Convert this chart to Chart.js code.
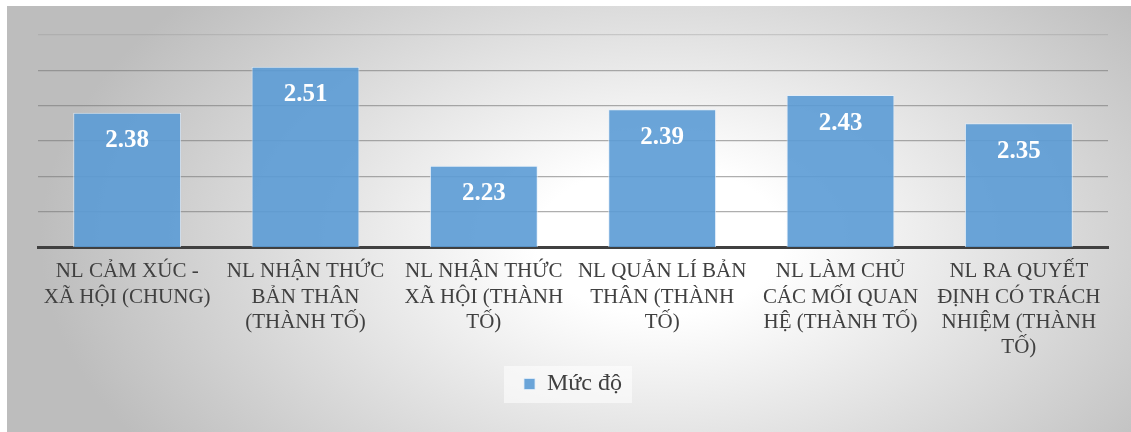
<!DOCTYPE html>
<html>
<head>
<meta charset="utf-8">
<script src="https://cdn.jsdelivr.net/npm/chart.js@4"></script>
<style>
  html, body { margin: 0; padding: 0; background: #ffffff; }
  #wrap { width: 1131px; height: 432px; position: relative; }
</style>
</head>
<body>
<div id="wrap"><canvas id="result-chart" width="1131" height="432"></canvas></div>
<script>
var categories = [
    ['NL CẢM XÚC -', 'XÃ HỘI (CHUNG)'],
    ['NL NHẬN THỨC', 'BẢN THÂN', '(THÀNH TỐ)'],
    ['NL NHẬN THỨC', 'XÃ HỘI (THÀNH', 'TỐ)'],
    ['NL QUẢN LÍ BẢN', 'THÂN (THÀNH', 'TỐ)'],
    ['NL LÀM CHỦ', 'CÁC MỐI QUAN', 'HỆ (THÀNH TỐ)'],
    ['NL RA QUYẾT', 'ĐỊNH CÓ TRÁCH', 'NHIỆM (THÀNH', 'TỐ)']
]
var seriesName = 'Mức độ'
var mucDo = [2.38, 2.51, 2.23, 2.39, 2.43, 2.35]
var yMin = 2.0
var yMax = 2.6
var yStep = 0.1

var serif = "'Liberation Serif', 'Times New Roman', serif"

// gray / white background like the office chart area
var backgroundPlugin = {
    id: 'bgFill',
    beforeDraw: function (chart) {
        var c = chart.ctx
        c.save()
        c.fillStyle = '#ffffff'
        c.fillRect(0, 0, chart.width, chart.height)
        c.translate(660, 240)
        c.scale(1, 0.6)
        var g = c.createRadialGradient(0, 0, 0, 0, 0, 620)
        g.addColorStop(0, '#ffffff')
        g.addColorStop(0.2, '#ffffff')
        g.addColorStop(1, '#bdbdbd')
        c.fillStyle = g
        c.fillRect(-660 + 7, (-240 + 6) / 0.6, 1131, 432 / 0.6)
        c.restore()

        // light box behind the legend
        var lg = chart.legend
        if (lg && lg.legendHitBoxes && lg.legendHitBoxes.length) {
            var hb = lg.legendHitBoxes[0]
            c.save()
            c.fillStyle = 'rgba(255,255,255,0.55)'
            c.fillRect(hb.left - 20, hb.top - 6, hb.width + 30, hb.height + 13)
            c.restore()
        }
    }
}

// value labels inside the bars
var valueLabels = {
    id: 'valueLabels',
    afterDatasetsDraw: function (chart) {
        var c = chart.ctx
        var meta = chart.getDatasetMeta(0)
        c.save()
        c.fillStyle = '#ffffff'
        c.font = 'bold 25px ' + serif
        c.textAlign = 'center'
        c.textBaseline = 'middle'
        meta.data.forEach(function (bar, i) {
            c.fillText(mucDo[i].toFixed(2), bar.x, bar.y + 28)
        })
        c.restore()
    }
}

var ctx = document.getElementById('result-chart').getContext('2d')
var resultchart = new Chart(ctx, {
    type: 'bar',
    data: {
        labels: categories,
        datasets: [{
            label: seriesName,
            data: mucDo,
            backgroundColor: 'rgba(91, 155, 213, 0.9)',
            borderColor: 'rgba(225, 238, 250, 0.8)',
            borderWidth: 1,
            categoryPercentage: 1.0,
            barPercentage: 0.605
        }]
    },
    options: {
        responsive: false,
        animation: false,
        layout: {
            padding: { left: 38, right: 23, top: 35, bottom: 26 }
        },
        scales: {
            x: {
                grid: { display: false, drawTicks: false },
                border: { display: true, color: '#404040', width: 3 },
                ticks: {
                    autoSkip: false,
                    maxRotation: 0,
                    padding: 12,
                    color: '#404040',
                    font: { family: serif, size: 21, lineHeight: 1.21 }
                },
                afterFit: function (scale) { scale.height = 115 }
            },
            y: {
                min: yMin,
                max: yMax,
                ticks: { display: false, stepSize: yStep },
                border: { display: false },
                grid: {
                    drawTicks: false,
                    lineWidth: 1.2,
                    color: function (c) {
                        return c.index === c.scale.ticks.length - 1 ? 'rgba(150,150,150,0.35)' : 'rgba(120,120,120,0.6)'
                    }
                }
            }
        },
        plugins: {
            legend: {
                position: 'bottom',
                labels: {
                    boxWidth: 11,
                    boxHeight: 11,
                    padding: 10,
                    color: '#404040',
                    font: { family: serif, size: 24 }
                }
            },
            tooltip: { enabled: false }
        }
    },
    plugins: [backgroundPlugin, valueLabels]
})
</script>
</body>
</html>
